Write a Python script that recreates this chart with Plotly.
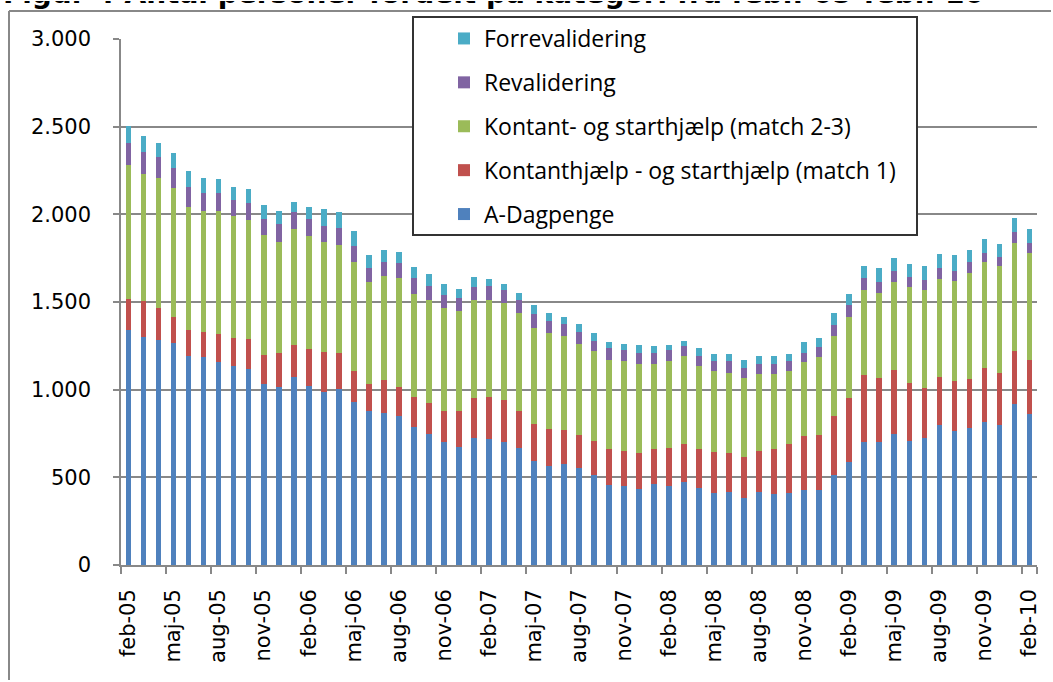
import plotly.graph_objects as go

months_da = ["jan", "feb", "mar", "apr", "maj", "jun", "jul", "aug", "sep", "okt", "nov", "dec"]
categories = []
for k in range(61):
    m = (1 + k) % 12
    y = 5 + (1 + k) // 12
    categories.append(f"{months_da[m]}-{y:02d}")

a_dagpenge = [1343, 1300, 1285, 1264, 1192, 1185, 1157, 1134, 1119, 1032,
              1017, 1075, 1020, 987, 1002, 928, 877, 869, 848, 789,
              746, 702, 674, 723, 718, 703, 667, 595, 564, 574,
              551, 515, 456, 449, 434, 462, 449, 472, 441, 413,
              419, 383, 419, 405, 413, 426, 426, 515, 587, 702,
              702, 746, 710, 723, 797, 767, 782, 818, 797, 920, 861]
match1 = [176, 204, 183, 153, 151, 145, 158, 160, 168, 168,
          191, 182, 211, 226, 205, 176, 153, 184, 167, 169,
          176, 177, 205, 228, 240, 240, 212, 210, 213, 195,
          190, 195, 203, 203, 204, 197, 218, 217, 218, 233,
          219, 233, 233, 254, 276, 307, 315, 333, 363, 380,
          364, 364, 328, 285, 277, 284, 277, 307, 298, 298, 308]
match23 = [760, 724, 740, 732, 697, 689, 704, 695, 681, 681,
           635, 660, 647, 628, 618, 627, 583, 596, 621, 588,
           588, 588, 567, 559, 551, 553, 559, 545, 545, 538,
           522, 510, 510, 509, 508, 487, 494, 502, 474, 458,
           459, 452, 437, 430, 415, 422, 443, 459, 466, 487,
           488, 503, 546, 561, 560, 569, 605, 604, 613, 621, 611]
revalidering = [129, 130, 117, 117, 117, 102, 102, 94, 94, 94,
                102, 94, 94, 94, 95, 87, 80, 82, 87, 90,
                82, 74, 74, 74, 82, 72, 71, 82, 72, 66,
                67, 58, 66, 66, 66, 66, 66, 57, 58, 59,
                66, 57, 59, 59, 59, 57, 58, 59, 66, 67,
                59, 66, 57, 59, 59, 59, 67, 51, 51, 59, 59]
forrevalidering = [96, 87, 84, 85, 92, 87, 79, 74, 80, 80,
                   74, 59, 72, 93, 95, 89, 74, 64, 64, 66,
                   65, 64, 57, 59, 43, 36, 44, 51, 44, 44,
                   43, 44, 36, 36, 44, 36, 29, 30, 44, 42,
                   42, 44, 43, 43, 42, 59, 50, 72, 63, 72,
                   81, 72, 74, 80, 81, 88, 64, 80, 72, 81, 79]

series = [
    ("A-Dagpenge", a_dagpenge, "#4F81BD"),
    ("Kontanthjælp - og starthjælp (match 1)", match1, "#C0504D"),
    ("Kontant- og starthjælp (match 2-3)", match23, "#9BBB59"),
    ("Revalidering", revalidering, "#8064A2"),
    ("Forrevalidering", forrevalidering, "#4BACC6"),
]

tick_labels = categories[::3]
title_text = "Figur 4 Antal personer fordelt på kategori fra febr. 05-febr. 10"

W, H = 1053, 682
L, R, T, B = 121, 1037, 39, 565  # plot area in page pixels
BAND_TOP, BAND_BOT = 1, 10        # visible strip of the (cut) title at the top


def px(x):
    return x / W


def py(y):
    return 1 - y / H


fig = go.Figure()
n = len(series)
for i, (name, vals, col) in enumerate(series):
    fig.add_trace(go.Bar(x=categories, y=vals, name=name, legendgroup=name,
                         legendrank=n - i,
                         marker=dict(color=col, line=dict(width=0))))

# title: text clipped by a thin top subplot, as in the cropped original
fig.add_trace(go.Scatter(x=[3], y=[-4], mode="text", text=[title_text],
                         textposition="middle right", showlegend=False,
                         hoverinfo="skip", cliponaxis=True,
                         textfont=dict(family="DejaVu Sans", size=28, color="#000",
                                       weight="bold"),
                         xaxis="x2", yaxis="y2"))

fig.update_layout(
    width=W, height=H,
    margin=dict(l=0, r=0, t=0, b=0, autoexpand=False),
    barmode="stack", bargap=0.62,
    plot_bgcolor="white", paper_bgcolor="white",
    separators=",.",
    showlegend=True,
    legend=dict(x=px(444), xanchor="left", y=py(17), yanchor="top",
                traceorder="grouped", tracegroupgap=11,
                font=dict(family="Open Sans", size=23, color="#000"),
                bgcolor="rgba(0,0,0,0)", borderwidth=0),
    font=dict(family="DejaVu Sans", size=20, color="#000"),
    xaxis2=dict(domain=[0, 1], range=[0, W], visible=False, anchor="y2",
                fixedrange=True, automargin=False),
    # y2 in page pixels measured downward from the top of the page
    yaxis2=dict(domain=[py(BAND_BOT), py(BAND_TOP)], range=[BAND_BOT, BAND_TOP],
                visible=False, anchor="x2", fixedrange=True, automargin=False),
)
fig.layout.xaxis.update(
    domain=[px(L), px(R)], type="category", tickmode="array", tickvals=tick_labels,
    ticktext=tick_labels, tickangle=-90, tickson="boundaries", automargin=False,
    ticks="outside", ticklen=7, tickcolor="#888", tickwidth=1.5,
    ticklabelstandoff=14,
    showline=True, linecolor="#888", linewidth=1.5, showgrid=False,
    tickfont=dict(family="DejaVu Sans", size=21, color="#000"))
fig.layout.yaxis.update(
    domain=[py(B), py(T)], range=[0, 3000], dtick=500, tickformat=",d",
    automargin=False,
    ticks="outside", ticklen=6, tickcolor="#888", tickwidth=1.5,
    ticklabelstandoff=18,
    showline=True, linecolor="#888", linewidth=1.5,
    showgrid=True, gridcolor="#888", gridwidth=1.5,
    tickfont=dict(family="DejaVu Sans", size=21, color="#000"))

# legend frame
fig.add_shape(type="rect", xref="paper", yref="paper",
              x0=px(413), x1=px(917), y0=py(235), y1=py(17),
              line=dict(color="#333", width=2), fillcolor="white", layer="above")
# outer chart frame (left and top edges visible)
fig.add_shape(type="line", xref="paper", yref="paper",
              x0=px(9), x1=px(9), y0=py(H - 2), y1=py(11),
              line=dict(color="#888", width=2), layer="above")
fig.add_shape(type="line", xref="paper", yref="paper",
              x0=px(9), x1=px(W - 2), y0=py(11), y1=py(11),
              line=dict(color="#888", width=2), layer="above")

fig.write_html("out.html", config={"displayModeBar": False},
               post_script="document.body.style.margin='0';")
